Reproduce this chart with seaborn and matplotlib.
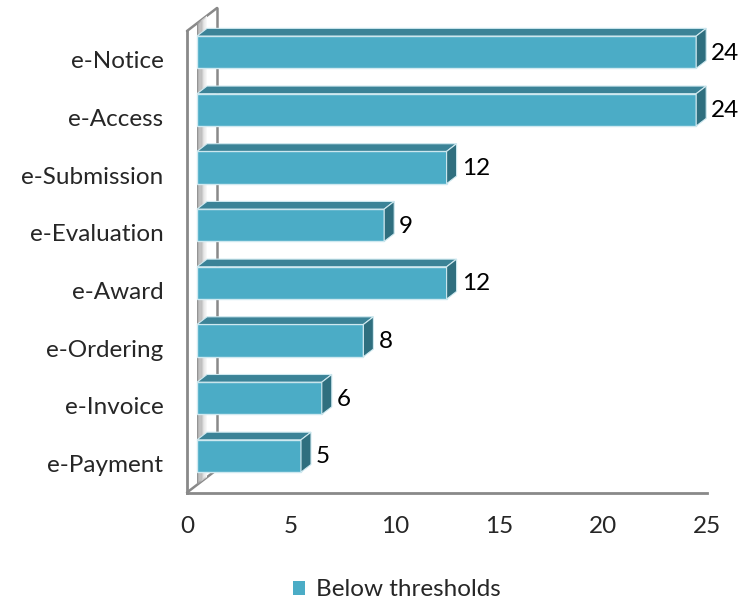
import numpy as np
import pandas as pd
import matplotlib
matplotlib.use("Agg")
import matplotlib.pyplot as plt
import seaborn as sns
from matplotlib.transforms import Affine2D
from matplotlib.patches import Polygon, Patch
from matplotlib.lines import Line2D

# Data
channels = ["e-Notice", "e-Access", "e-Submission", "e-Evaluation",
            "e-Award", "e-Ordering", "e-Invoice", "e-Payment"]
below_thresholds = [24, 24, 12, 9, 12, 8, 6, 5]
x_ticks = [0, 5, 10, 15, 20, 25]
series_label = "Below thresholds"

df = pd.DataFrame({"channel": channels, "value": below_thresholds})

FRONT = "#4BACC6"
TOP = "#3B8397"
SIDE = "#2F6F7F"
EDGE = "#CFE9F0"
AXIS = "#898989"
FS = 17.5

sns.set_theme(style="white")
plt.rcParams["font.family"] = ["Lato", "DejaVu Sans"]

W, H = 746, 603
fig = plt.figure(figsize=(W / 100, H / 100), dpi=100)
ax_l, ax_r, ax_t, ax_b = 187, 707, 31, 492.5
ax = fig.add_axes([ax_l / W, (H - ax_b) / H, (ax_r - ax_l) / W, (ax_b - ax_t) / H])

bar_w = 0.56
sns.barplot(data=df, x="value", y="channel", orient="h", color=FRONT,
            width=bar_w, edgecolor=EDGE, linewidth=1.0, saturation=1, ax=ax, zorder=5)

ax.set_xlim(0, 25)
ax.set_ylim(len(channels) - 0.5, -0.5)

# pixel scales of the data axes
sx = (ax_r - ax_l) / 25.0
sy = (ax_b - ax_t) / len(channels)

# wall depth in pixels (right, up)
DX, DY = 30.0, 23.0
fx, fy = DX / 3, DY / 3          # bar front-face offset
ux, uy = fx / sx, fy / sy         # bar depth in data units

shift = ax.transData + Affine2D().translate(fx, fy)

# Wall: back edges and diagonals
ymax_d, ymin_d = len(channels) - 0.5, -0.5
def depth_pt(t, ydata):
    return (t * DX / sx, ydata - t * DY / sy)

for (a, b) in [((0, ymin_d), depth_pt(1, ymin_d)),
               ((0, ymax_d), depth_pt(1, ymax_d)),
               (depth_pt(1, ymin_d), depth_pt(1, ymax_d))]:
    ax.add_line(Line2D([a[0], b[0]], [a[1], b[1]], color=AXIS, lw=1.8,
                       clip_on=False, zorder=1))

# shaded slice of the wall behind the bars
n_strips = 8
grays = np.linspace(0.58, 0.97, n_strips)
for i in range(n_strips):
    t0 = 1 / 3 + i / (3 * n_strips)
    t1 = 1 / 3 + (i + 1) / (3 * n_strips)
    verts = [depth_pt(t0, ymax_d), depth_pt(t1, ymax_d),
             depth_pt(t1, ymin_d), depth_pt(t0, ymin_d)]
    ax.add_patch(Polygon(verts, closed=True, facecolor=str(grays[i]),
                         edgecolor="none", clip_on=False, zorder=2))

# Bars: shift front faces and add top and side faces
for bar, v in zip(ax.patches[:len(channels)], below_thresholds):
    bar.set_transform(shift)
    bar.set_clip_on(False)
    y0 = bar.get_y()
    y1 = y0 + bar.get_height()
    top = [(0, y0), (v, y0), (v + ux, y0 - uy), (ux, y0 - uy)]
    side = [(v, y0), (v + ux, y0 - uy), (v + ux, y1 - uy), (v, y1)]
    ax.add_patch(Polygon(top, closed=True, facecolor=TOP, edgecolor=EDGE,
                         lw=0.8, transform=shift, clip_on=False, zorder=6))
    ax.add_patch(Polygon(side, closed=True, facecolor=SIDE, edgecolor=EDGE,
                         lw=0.8, transform=shift, clip_on=False, zorder=6))
    ax.text(v, (y0 + y1) / 2, str(v),
            transform=ax.transData + Affine2D().translate(fx + fx + 5, fy - 1),
            ha="left", va="center", fontsize=FS, color="black", zorder=7)

# Axes styling
for side_name in ["top", "right"]:
    ax.spines[side_name].set_visible(False)
for side_name in ["left", "bottom"]:
    ax.spines[side_name].set_color(AXIS)
    ax.spines[side_name].set_linewidth(2)
    ax.spines[side_name].set_zorder(3)
ax.set_xticks(x_ticks)
ax.set_xticklabels([str(t) for t in x_ticks])
ax.tick_params(axis="x", length=0, pad=17, labelsize=FS)
ax.tick_params(axis="y", length=0, pad=17, labelsize=FS)
ax.set_xlabel("")
ax.set_ylabel("")
ax.grid(False)

fig.legend(handles=[Patch(facecolor=FRONT, edgecolor="none", label=series_label)],
           loc="center", bbox_to_anchor=(397 / W, 1 - 590 / H), frameon=False,
           handlelength=0.5, handleheight=0.5, handletextpad=0.45, fontsize=FS)

fig.savefig("out.png", dpi=100)
